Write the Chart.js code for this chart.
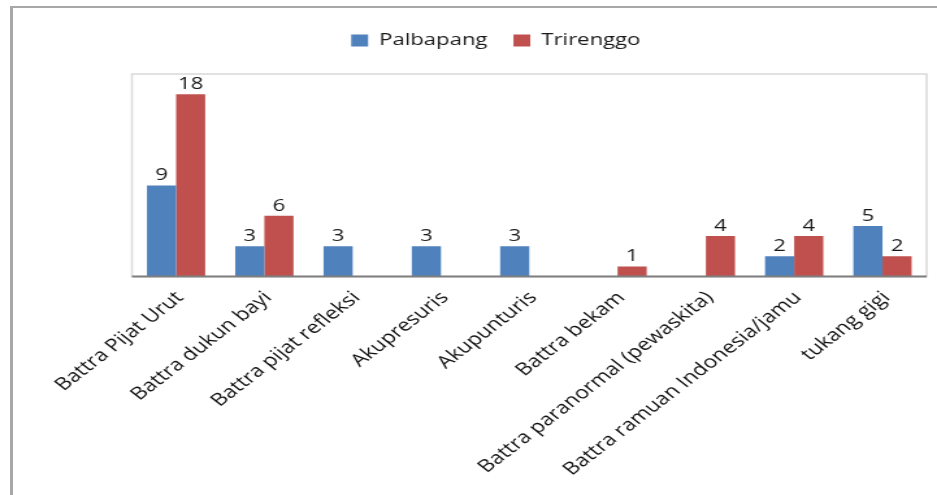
<!DOCTYPE html>
<html>
<head>
<meta charset="utf-8">
<script src="https://cdn.jsdelivr.net/npm/chart.js@4/dist/chart.umd.min.js"></script>
<style>
  html, body { margin: 0; padding: 0; background: #ffffff; overflow: hidden; }
  #page { position: relative; width: 937px; height: 495px; }
  #frame {
    position: absolute; left: 10px; top: 6px; right: -4px; bottom: -4px;
    border-top: 2px solid #a8a8a8; border-left: 3px solid #a8a8a8;
  }
  /* the chart is laid out on a narrower canvas and widened to the page */
  #wrap {
    position: absolute; left: 0; top: 0; width: 721px; height: 495px;
    transform: scale(1.2996, 1); transform-origin: 0 0;
  }
</style>
</head>
<body>
<div id="page">
  <div id="frame"></div>
  <div id="wrap"><canvas id="c" width="721" height="495"></canvas></div>
</div>
<script>
const categories = [
  'Battra Pijat Urut',
  'Battra dukun bayi',
  'Battra pijat refleksi',
  'Akupresuris',
  'Akupunturis',
  'Battra bekam',
  'Battra paranormal (pewaskita)',
  'Battra ramuan Indonesia/jamu',
  'tukang gigi'
];
const palbapang = [9, 3, 3, 3, 3, 0, 0, 2, 5];
const trirenggo = [18, 6, 0, 0, 0, 1, 4, 4, 2];
const seriesNames = ['Palbapang', 'Trirenggo'];

const FONT = '"Open Sans", "Noto Sans", sans-serif';

// value written above each non-empty bar
const valueLabels = {
  id: 'valueLabels',
  afterDatasetsDraw(chart) {
    const ctx = chart.ctx;
    ctx.save();
    ctx.font = '17px ' + FONT;
    ctx.fillStyle = '#1a1a1a';
    ctx.textAlign = 'center';
    ctx.textBaseline = 'alphabetic';
    chart.data.datasets.forEach((ds, i) => {
      const meta = chart.getDatasetMeta(i);
      meta.data.forEach((bar, j) => {
        const v = ds.data[j];
        if (!v) return;
        ctx.fillText(String(v), bar.x, bar.y - 5);
      });
    });
    ctx.restore();
  }
};

// light plot-area box, darker category axis line
const plotBox = {
  id: 'plotBox',
  beforeDatasetsDraw(chart) {
    const a = chart.chartArea;
    const ctx = chart.ctx;
    ctx.save();
    ctx.strokeStyle = '#d9d9d9';
    ctx.lineWidth = 1.5;
    ctx.strokeRect(a.left, a.top, a.right - a.left, a.bottom - a.top);
    ctx.restore();
  },
  afterDatasetsDraw(chart) {
    const a = chart.chartArea;
    const ctx = chart.ctx;
    ctx.save();
    ctx.strokeStyle = '#7f7f7f';
    ctx.lineWidth = 2;
    ctx.beginPath();
    ctx.moveTo(a.left, a.bottom);
    ctx.lineTo(a.right, a.bottom);
    ctx.stroke();
    ctx.restore();
  }
};

// extra room below the legend row before the plot starts
const legendGap = {
  id: 'legendGap',
  afterInit(chart) {
    const lg = chart.legend;
    if (!lg) return;
    const fit = lg.fit;
    lg.fit = function () { fit.call(this); this.height += 15; };
  }
};

new Chart(document.getElementById('c'), {
  type: 'bar',
  data: {
    labels: categories,
    datasets: [
      { label: seriesNames[0], data: palbapang, backgroundColor: '#4f81bd' },
      { label: seriesNames[1], data: trirenggo, backgroundColor: '#c0504d' }
    ]
  },
  options: {
    responsive: false,
    animation: false,
    devicePixelRatio: 1,
    layout: { padding: { left: 50, right: 8, top: 12, bottom: 0 } },
    datasets: { bar: { categoryPercentage: 0.66, barPercentage: 1.0 } },
    plugins: {
      legend: {
        position: 'top',
        labels: {
          font: { family: FONT, size: 17 },
          color: '#1a1a1a',
          boxWidth: 13,
          boxHeight: 12,
          padding: 20
        }
      },
      tooltip: { enabled: false }
    },
    scales: {
      x: {
        grid: { display: false },
        border: { display: false },
        ticks: {
          color: '#111111',
          font: { family: FONT, size: 17.5 },
          minRotation: 45,
          maxRotation: 45,
          padding: 3,
          labelOffset: 3,
          autoSkip: false
        },
        afterFit(scale) { scale.height = 218.5; }
      },
      y: {
        min: 0,
        max: 20,
        grid: { display: false },
        border: { display: false },
        ticks: { display: false },
        afterFit(scale) { scale.width = 51.5; }
      }
    }
  },
  plugins: [plotBox, valueLabels, legendGap]
});
</script>
</body>
</html>
